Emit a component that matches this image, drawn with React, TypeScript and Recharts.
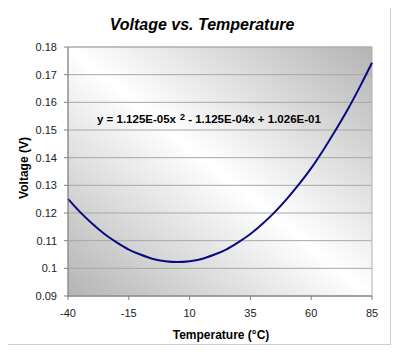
import React from 'react';
import { LineChart, Line, XAxis, YAxis, CartesianGrid, ReferenceArea } from 'recharts';

const temps = [-40, -35, -30, -25, -20, -15, -10, -5, 0, 5, 10, 15, 20, 25, 30, 35, 40, 45, 50, 55, 60, 65, 70, 75, 80, 85];
const volts = [0.1251, 0.1203, 0.1161, 0.1124, 0.1094, 0.1068, 0.1049, 0.1034, 0.1026, 0.1023, 0.1026, 0.1034, 0.1049, 0.1068, 0.1094, 0.1124, 0.1161, 0.1203, 0.1251, 0.1304, 0.1362, 0.1428, 0.1499, 0.1574, 0.1656, 0.1743];
const xTicks = [-40, -15, 10, 35, 60, 85];
const yTicks = [0.09, 0.1, 0.11, 0.12, 0.13, 0.14, 0.15, 0.16, 0.17, 0.18];

const data = temps.map((t, i) => ({ t, v: volts[i] }));

const FONT = '"Liberation Sans", Arial, sans-serif';

export default function App() {
  return (
    <div style={{ position: 'relative', marginLeft: -1, marginTop: -1, width: 382, height: 336, border: '1px solid #cfcfcf', background: '#fff' }}>
      <LineChart width={382} height={336} data={data} margin={{ top: 39, right: 18, bottom: 0, left: 0 }}>
        <defs>
          <linearGradient id="plotGrad" x1="0" y1="1" x2="1" y2="0">
            <stop offset="0%" stopColor="#b4b4b4" />
            <stop offset="50%" stopColor="#ffffff" />
            <stop offset="100%" stopColor="#b4b4b4" />
          </linearGradient>
        </defs>
        <CartesianGrid vertical={false} stroke="#a8a8a8" fill="url(#plotGrad)" fillOpacity={1} />
        <ReferenceArea x1={-40} x2={85} y1={0.09} y2={0.18} fill="none" stroke="#b0b0b0" strokeWidth={1} ifOverflow="visible" />
        <XAxis
          dataKey="t"
          type="number"
          domain={[-40, 85]}
          ticks={xTicks}
          height={48}
          stroke="#808080"
          tickSize={4}
          tickMargin={9}
          tick={{ fill: '#222', fontSize: 11, fontFamily: FONT }}
          interval={0}
        />
        <YAxis
          type="number"
          domain={[0.09, 0.18]}
          ticks={yTicks}
          width={60}
          stroke="#808080"
          tickSize={4}
          tickMargin={7}
          tick={{ fill: '#222', fontSize: 11, fontFamily: FONT }}
          interval={0}
          allowDataOverflow
        />
        <Line dataKey="v" type="monotone" stroke="#0a0a80" strokeWidth={2} dot={false} isAnimationActive={false} />
      </LineChart>
      <svg width={382} height={336} style={{ position: 'absolute', left: 0, top: 0, pointerEvents: 'none' }}>
        <text x={194} y={21.5} textAnchor="middle" fontFamily={FONT} fontSize={16} fontWeight="bold" fontStyle="italic" fill="#000">
          Voltage vs. Temperature
        </text>
        <text x={16} y={160} textAnchor="middle" dominantBaseline="central" transform="rotate(-90 16 160)" fontFamily={FONT} fontSize={12} fontWeight="bold" fill="#000">
          Voltage (V)
        </text>
        <text x={213} y={330.5} textAnchor="middle" fontFamily={FONT} fontSize={12} fontWeight="bold" fill="#000">
          Temperature (°C)
        </text>
        <text x={89} y={115} fontFamily={FONT} fontSize={11.5} fontWeight="bold" fill="#000">
          y = 1.125E-05x
          <tspan dx={4} dy={-3} fontSize={9}>2</tspan>
          <tspan dy={3}> - 1.125E-04x + 1.026E-01</tspan>
        </text>
      </svg>
    </div>
  );
}
